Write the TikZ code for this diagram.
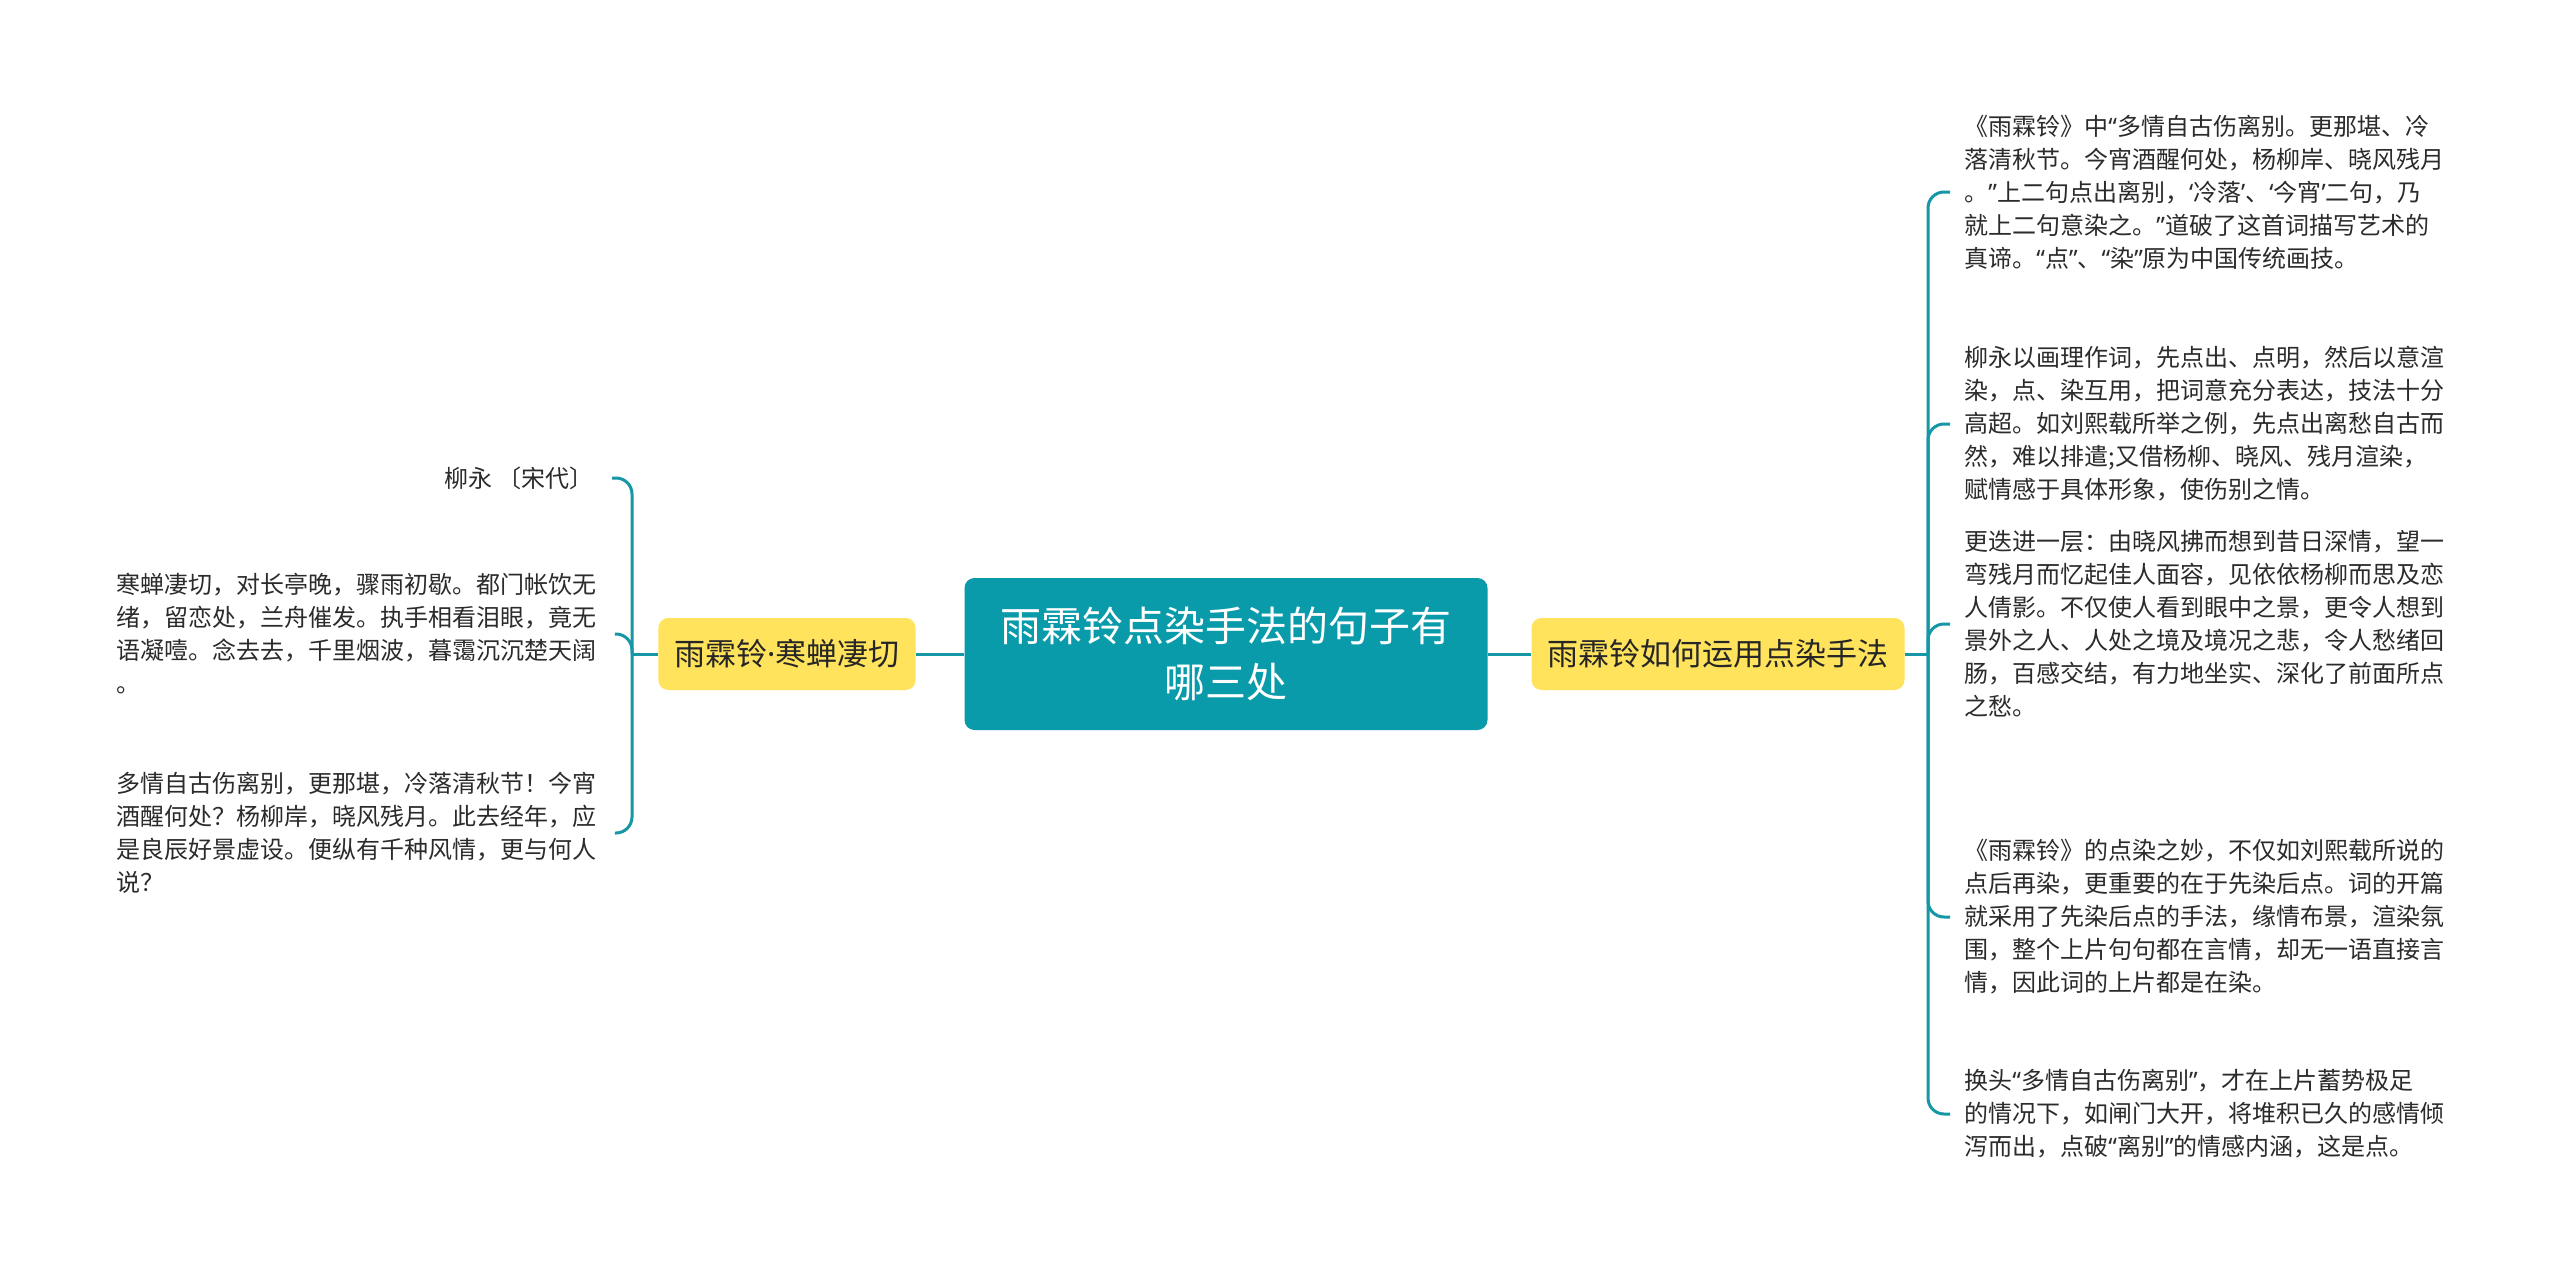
\documentclass[tikz,border=0pt]{standalone}
\usepackage{fontspec}
\setmainfont{Noto Sans CJK SC}
\newfontfamily\quotefont{Noto Sans}
\newcommand{\qo}{{\quotefont “}}
\newcommand{\qc}{{\quotefont ”}}
\newcommand{\sqo}{{\quotefont ‘}}
\newcommand{\sqc}{{\quotefont ’}}
\newcommand{\mdot}{{\quotefont ·}}
\definecolor{rootteal}{HTML}{0A9BAB}
\definecolor{linkteal}{HTML}{1697A6}
\definecolor{topicyellow}{HTML}{FFE35C}
\definecolor{leafgray}{HTML}{2B2B2B}

\begin{document}
\begin{tikzpicture}[x=0.5pt,y=-0.5pt,
   conn/.style={draw=linkteal, line width=1.5pt},
   rootbox/.style={fill=rootteal, text=white, rounded corners=5pt, inner sep=0pt,
     minimum width=261.5pt, minimum height=76pt, align=center,
     font=\fontsize{20.5}{28}\selectfont},
   topic/.style={fill=topicyellow, text=black!85, rounded corners=5pt, inner xsep=8pt,
     minimum height=36pt, font=\fontsize{15.5}{18}\selectfont},
   leaf/.style={text=leafgray, inner sep=0pt, align=left, font=\fontsize{12}{16.5}\selectfont}]
   \fill[white] (0,0) rectangle (2560,1279);
   \useasboundingbox (0,0) rectangle (2560,1279);
   % centre and the two topics
   \node[rootbox] (root) at (1226,654) {雨霖铃点染手法的句子有\\哪三处};
   \node[topic] (ltopic) at (787,654) {雨霖铃\mdot 寒蝉凄切};
   \node[topic] (rtopic) at (1718,654) {雨霖铃如何运用点染手法};
   \draw[conn] (root.west) -- (ltopic.east);
   \draw[conn] (root.east) -- (rtopic.west);
   % left leaves
   \node[leaf, anchor=east, align=right] (l1) at (594,478) {柳永 〔宋代〕};
   \node[leaf, anchor=west] (l2) at (116,634) {寒蝉凄切，对长亭晚，骤雨初歇。都门帐饮无\\绪，留恋处，兰舟催发。执手相看泪眼，竟无\\语凝噎。念去去，千里烟波，暮霭沉沉楚天阔\\。};
   \node[leaf, anchor=west] (l3) at (116,833) {多情自古伤离别，更那堪，冷落清秋节！今宵\\酒醒何处？杨柳岸，晓风残月。此去经年，应\\是良辰好景虚设。便纵有千种风情，更与何人\\说？};
   % right leaves
   \node[leaf, anchor=west] (r1) at (1964,192) {《雨霖铃》中\qo 多情自古伤离别。更那堪、冷\\落清秋节。今宵酒醒何处，杨柳岸、晓风残月\\。\qc 上二句点出离别，\sqo 冷落\sqc 、\sqo 今宵\sqc 二句，乃\\就上二句意染之。\qc 道破了这首词描写艺术的\\真谛。\qo 点\qc 、\qo 染\qc 原为中国传统画技。};
   \node[leaf, anchor=west] (r2) at (1964,424) {柳永以画理作词，先点出、点明，然后以意渲\\染，点、染互用，把词意充分表达，技法十分\\高超。如刘熙载所举之例，先点出离愁自古而\\然，难以排遣;又借杨柳、晓风、残月渲染，\\赋情感于具体形象，使伤别之情。};
   \node[leaf, anchor=west] (r3) at (1964,624) {更迭进一层：由晓风拂而想到昔日深情，望一\\弯残月而忆起佳人面容，见依依杨柳而思及恋\\人倩影。不仅使人看到眼中之景，更令人想到\\景外之人、人处之境及境况之悲，令人愁绪回\\肠，百感交结，有力地坐实、深化了前面所点\\之愁。};
   \node[leaf, anchor=west] (r4) at (1964,917) {《雨霖铃》的点染之妙，不仅如刘熙载所说的\\点后再染，更重要的在于先染后点。词的开篇\\就采用了先染后点的手法，缘情布景，渲染氛\\围，整个上片句句都在言情，却无一语直接言\\情，因此词的上片都是在染。};
   \node[leaf, anchor=west] (r5) at (1964,1114) {换头\qo 多情自古伤离别\qc ，才在上片蓄势极足\\的情况下，如闸门大开，将堆积已久的感情倾\\泻而出，点破\qo 离别\qc 的情感内涵，这是点。};
   % brackets
   \coordinate (lv) at (632,654);
   \coordinate (rv) at (1928,654);
   \draw[conn] (ltopic.west) -- (lv);
   \draw[conn] (rtopic.east) -- (rv);
   \foreach \n in {l1,l2,l3} {
    \draw[conn, rounded corners=8pt] (lv) |- ([xshift=9pt]\n.east);
   }
   \foreach \n in {r1,r2,r3,r4,r5} {
    \draw[conn, rounded corners=8pt] (rv) |- ([xshift=-7pt]\n.west);
   }
\end{tikzpicture}
\end{document}
